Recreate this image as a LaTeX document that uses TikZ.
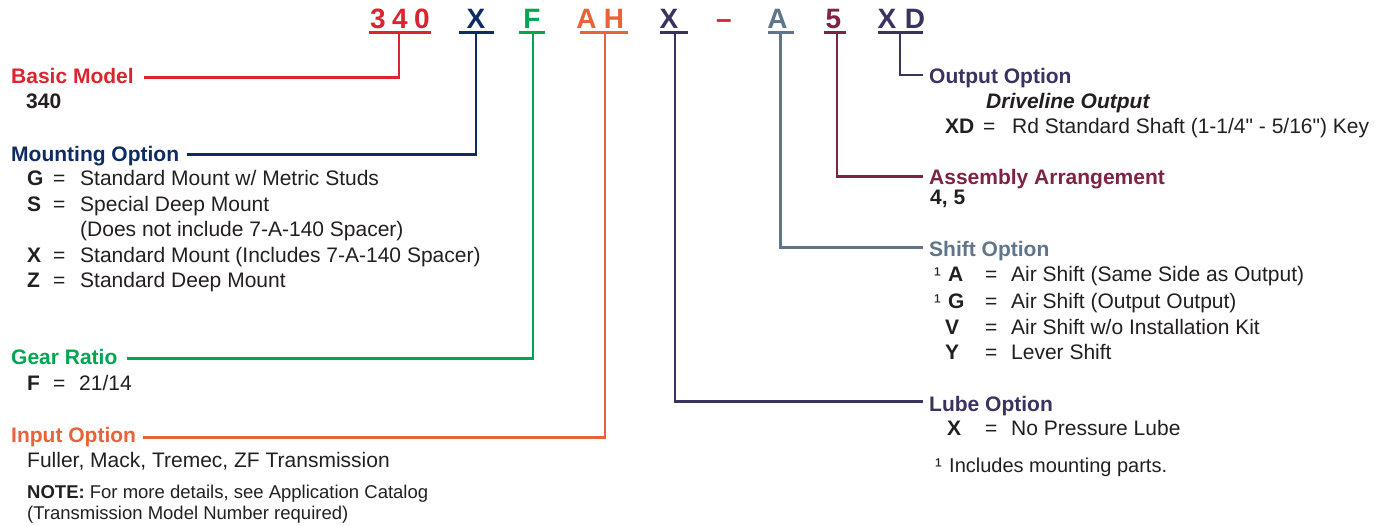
\documentclass[tikz,border=0pt]{standalone}
\usepackage{fontspec}
\setmainfont{Liberation Sans}[Ligatures=TeXOff]
\definecolor{cred}{RGB}{218,37,47}
\definecolor{cnavy}{RGB}{14,44,100}
\definecolor{cgreen}{RGB}{0,165,80}
\definecolor{corange}{RGB}{232,98,58}
\definecolor{cpurple}{RGB}{60,50,96}
\definecolor{cslate}{RGB}{96,117,137}
\definecolor{cmaroon}{RGB}{125,35,70}
\definecolor{ctxt}{RGB}{35,31,32}
\begin{document}
\begin{tikzpicture}[x=1pt,y=-1pt,
  code/.style={font=\fontsize{28}{30}\selectfont\bfseries, inner sep=0pt, anchor=base},
  head/.style={font=\fontsize{21}{25}\selectfont\bfseries, inner sep=0pt, anchor=base west, text height=15pt, text depth=0pt},
  body/.style={font=\fontsize{21}{25}\selectfont, inner sep=0pt, anchor=base west, text=ctxt},
  keyb/.style={font=\fontsize{21}{25}\selectfont\bfseries, inner sep=0pt, anchor=base west, text=ctxt},
  note/.style={font=\fontsize{18.5}{22}\selectfont, inner sep=0pt, anchor=base west, text=ctxt},
  foot/.style={font=\fontsize{20}{24}\selectfont, inner sep=0pt, anchor=base west, text=ctxt},
  supr/.style={font=\fontsize{20}{20}\selectfont, inner sep=0pt, anchor=base west, text=ctxt},
  bar/.style={line width=3pt},
  lead/.style={line width=2.5pt}]
\useasboundingbox (0,0) rectangle (1381,525);

% ---------- model code ----------
\node[code,text=cred] (c3) at (378,28) {3};
\node[code,text=cred] (c4) at (400,28) {4};
\node[code,text=cred] (c0) at (422,28) {0};
\node[code,text=cnavy] (cX1) at (476,28) {X};
\node[code,text=cgreen] (cF) at (532,28) {F};
\node[code,text=corange] (cA1) at (586.5,28) {A};
\node[code,text=corange] (cH) at (614,28) {H};
\node[code,text=cpurple] (cX2) at (669,28) {X};
\node[code,text=cred] (cdash) at (724,28) {–};
\node[code,text=cslate] (cA2) at (777.5,28) {A};
\node[code,text=cmaroon] (c5) at (833.5,28) {5};
\node[code,text=cpurple] (cX3) at (887,28) {X};
\node[code,text=cpurple] (cD) at (915,28) {D};

% underline bars
\coordinate (u1l) at (369,32.5);  \coordinate (u1r) at (431,32.5);  \coordinate (s1) at (399,32.5);
\coordinate (u2l) at (459,32.5);  \coordinate (u2r) at (494,32.5);  \coordinate (s2) at (476,32.5);
\coordinate (u3l) at (519,32.5);  \coordinate (u3r) at (545,32.5);  \coordinate (s3) at (533,32.5);
\coordinate (u4l) at (580,32.5);  \coordinate (u4r) at (628,32.5);  \coordinate (s4) at (605,32.5);
\coordinate (u5l) at (660,32.5);  \coordinate (u5r) at (688,32.5);  \coordinate (s5) at (675,32.5);
\coordinate (u6l) at (768,32.5);  \coordinate (u6r) at (794,32.5);  \coordinate (s6) at (780.5,32.5);
\coordinate (u7l) at (824,32.5);  \coordinate (u7r) at (846,32.5);  \coordinate (s7) at (837,32.5);
\coordinate (u8l) at (878,32.5);  \coordinate (u8r) at (923,32.5);  \coordinate (s8) at (900,32.5);
\draw[bar,cred] (u1l) -- (u1r);
\draw[bar,cnavy] (u2l) -- (u2r);
\draw[bar,cgreen] (u3l) -- (u3r);
\draw[bar,corange] (u4l) -- (u4r);
\draw[bar,cpurple] (u5l) -- (u5r);
\draw[bar,cslate] (u6l) -- (u6r);
\draw[bar,cmaroon] (u7l) -- (u7r);
\draw[bar,cpurple] (u8l) -- (u8r);

% ---------- left column ----------
\node[head,text=cred] (basic) at (11,83) {Basic Model};
\node[keyb] (v340) at (26,108) {340};

\node[head,text=cnavy] (mount) at (11,161) {Mounting Option};
\node[keyb] (kG) at (27,185) {G};   \node[body] (eG) at (53,185) {=}; \node[body] (tG) at (80,185) {Standard Mount w/ Metric Studs};
\node[keyb] (kS) at (27,211) {S};   \node[body] (eS) at (53,211) {=}; \node[body] (tS) at (80,211) {Special Deep Mount};
\node[body] (tS2) at (80,236.5) {(Does not include 7-A-140 Spacer)};
\node[keyb] (kX) at (27,262) {X};   \node[body] (eX) at (53,262) {=}; \node[body] (tX) at (80,262) {Standard Mount (Includes 7-A-140 Spacer)};
\node[keyb] (kZ) at (27,287.5) {Z}; \node[body] (eZ) at (53,287.5) {=}; \node[body] (tZ) at (80,287.5) {Standard Deep Mount};

\node[head,text=cgreen] (gear) at (11,364) {Gear Ratio};
\node[keyb] (kF) at (27,390) {F};   \node[body] (eF) at (53,390) {=}; \node[body] (tF) at (79,390) {21/14};

\node[head,text=corange] (input) at (11,442) {Input Option};
\node[body] (tIn) at (27,467.5) {Fuller, Mack, Tremec, ZF Transmission};
\node[note] (note1) at (27,498.5) {\bfseries NOTE:\mdseries{} For more details, see Application Catalog};
\node[note] (note2) at (27,519.5) {(Transmission Model Number required)};

% ---------- right column ----------
\node[head,text=cpurple] (output) at (929,83) {Output Option};
\node[keyb,font=\fontsize{21}{25}\selectfont\bfseries\itshape] (drv) at (986,108) {Driveline Output};
\node[keyb] (kXD) at (945,133) {XD}; \node[body] (eXD) at (983,133) {=}; \node[body] (tXD) at (1012,133) {Rd Standard Shaft (1-1/4" - 5/16") Key};

\node[head,text=cmaroon] (assy) at (929,184) {Assembly Arrangement};
\node[keyb] (v45) at (930,204.5) {4, 5};

\node[head,text=cslate] (shift) at (929,256) {Shift Option};
\node[supr] (sA) at (934,281.7) {¹}; \node[keyb] (kA) at (948,281.7) {A}; \node[body] (eA) at (985,281.7) {=}; \node[body] (tA) at (1011,281.7) {Air Shift (Same Side as Output)};
\node[supr] (sG) at (934,308.3) {¹}; \node[keyb] (kG2) at (948,308.3) {G}; \node[body] (eG2) at (985,308.3) {=}; \node[body] (tG2) at (1011,308.3) {Air Shift (Output Output)};
\node[keyb] (kV) at (945,334) {V}; \node[body] (eV) at (985,334) {=}; \node[body] (tV) at (1011,334) {Air Shift w/o Installation Kit};
\node[keyb] (kY) at (945,359.3) {Y}; \node[body] (eY) at (985,359.3) {=}; \node[body] (tY) at (1011,359.3) {Lever Shift};

\node[head,text=cpurple] (lube) at (929,411.5) {Lube Option};
\node[keyb] (kXL) at (947,435) {X}; \node[body] (eXL) at (985,435) {=}; \node[body] (tXL) at (1011,435) {No Pressure Lube};

\node[supr] (sF) at (935,472.5) {¹};
\node[foot] (tFoot) at (949,472.5) {Includes mounting parts.};

% ---------- connectors ----------
\draw[lead,cred] (s1) |- ([xshift=10pt,yshift=-2.2pt]basic.east);
\draw[lead,cnavy] (s2) |- ([xshift=8pt,yshift=-0.8pt]mount.east);
\draw[lead,cgreen] (s3) |- ([xshift=9pt,yshift=-1.8pt]gear.east);
\draw[lead,corange] (s4) |- ([xshift=7pt,yshift=-3.2pt]input.east);
\draw[lead,cpurple] (s5) |- ([xshift=-6pt,yshift=2.3pt]lube.west);
\draw[lead,cslate] (s6) |- ([xshift=-6pt,yshift=1.2pt]shift.west);
\draw[lead,cmaroon] (s7) |- ([xshift=-6pt]assy.west);
\draw[lead,cpurple] (s8) |- ([xshift=-6pt,yshift=0.5pt]output.west);
\end{tikzpicture}
\end{document}
